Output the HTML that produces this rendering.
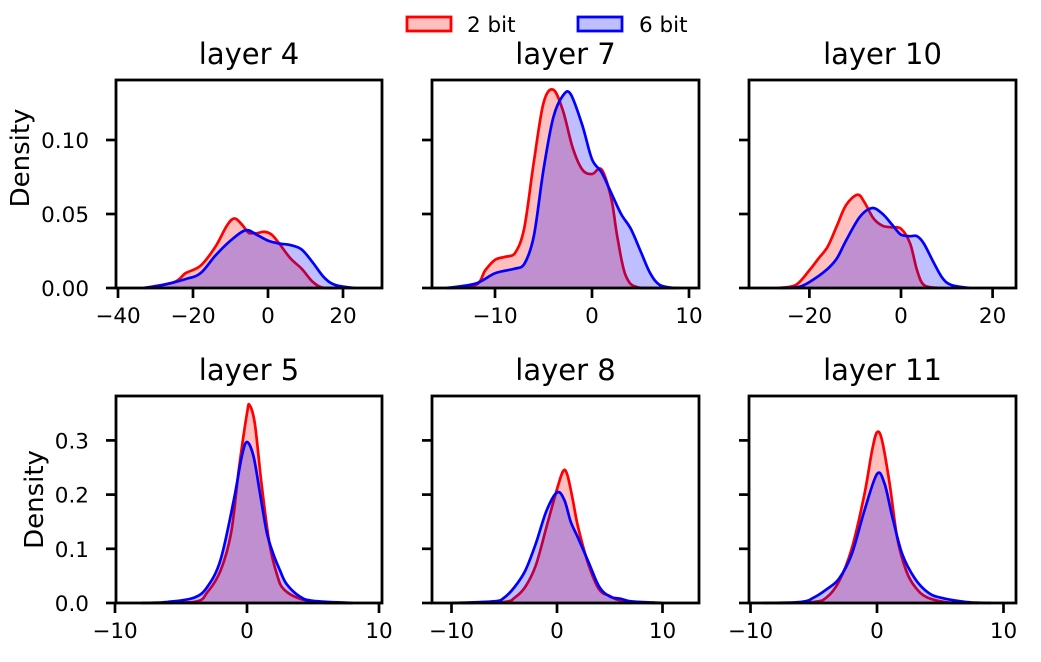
<!DOCTYPE html>
<html><head><meta charset="utf-8">
<style>
html,body{margin:0;padding:0;background:#fff;}
svg{display:block;}
text{font-family:"DejaVu Sans","Liberation Sans",sans-serif;fill:#000;}
</style></head>
<body>
<svg id="s" width="1041" height="662" viewBox="0 0 1041 662" xmlns="http://www.w3.org/2000/svg">
<rect x="407" y="17" width="44" height="14" fill="#ffbfbf" stroke="#ff0000" stroke-width="2.8"/>
<text x="467" y="32" font-size="21.5">2 bit</text>
<rect x="578" y="17" width="44" height="14" fill="#bfbfff" stroke="#0000ff" stroke-width="2.8"/>
<text x="639" y="32" font-size="21.5">6 bit</text>
<g id="g"></g>
</svg>
<script>
var NS="http://www.w3.org/2000/svg";
var g=document.getElementById("g");
function el(n,a,t){var e=document.createElementNS(NS,n);for(var k in a)e.setAttribute(k,a[k]);if(t!==undefined)e.textContent=t;g.appendChild(e);return e;}
var panels=[
 {L:116,R:382,T:80,B:288,x0:268,sx:3.75,sy:1480,title:"layer 4",ylab:true,
  xt:[[-40,"\u221240"],[-20,"\u221220"],[0,"0"],[20,"20"]],yt:[[0,"0.00"],[0.05,"0.05"],[0.10,"0.10"]],
  red:[[-33,0],[-25,0.004],[-22,0.01],[-18,0.015],[-14,0.028],[-11,0.042],[-9,0.047],[-7,0.043],[-5,0.037],[-3,0.037],[-1,0.038],[1,0.036],[3,0.03],[6,0.02],[9,0.013],[12,0.004],[15,0],[20,0]],
  blue:[[-33,0],[-28,0.002],[-22,0.006],[-18,0.01],[-14,0.022],[-10,0.032],[-6,0.039],[-3,0.036],[0,0.032],[3,0.03],[6,0.029],[9,0.026],[12,0.017],[15,0.007],[18,0.002],[23,0]]},
 {L:432,R:699,T:80,B:288,x0:592,sx:9.7,sy:1480,title:"layer 7",ylab:false,
  xt:[[-10,"\u221210"],[0,"0"],[10,"10"]],yt:[[0],[0.05],[0.10]],
  red:[[-15,0],[-12,0.002],[-11,0.012],[-10,0.019],[-9,0.021],[-8,0.023],[-7,0.04],[-6,0.085],[-5,0.125],[-4,0.134],[-3,0.12],[-2,0.095],[-1,0.08],[0,0.077],[1,0.08],[2,0.06],[2.6,0.035],[3.5,0.008],[5,0],[9,0]],
  blue:[[-15,0],[-12,0.003],[-10,0.01],[-8,0.013],[-7,0.016],[-6,0.035],[-5,0.08],[-4,0.115],[-3,0.13],[-2.2,0.131],[-1,0.11],[0,0.087],[1,0.078],[2,0.064],[3,0.05],[4,0.04],[5,0.025],[6,0.01],[7,0.002],[8.5,0]]},
 {L:749,R:1016,T:80,B:288,x0:901,sx:4.58,sy:1480,title:"layer 10",ylab:false,
  xt:[[-20,"\u221220"],[0,"0"],[20,"20"]],yt:[[0],[0.05],[0.10]],
  red:[[-27,0],[-23,0.002],[-20,0.012],[-18,0.02],[-16,0.028],[-14,0.042],[-12,0.056],[-9.5,0.063],[-8,0.058],[-6,0.047],[-4,0.042],[-2,0.041],[0,0.04],[2,0.03],[3.5,0.012],[5,0.002],[8,0]],
  blue:[[-26,0],[-22,0.001],[-19,0.006],[-16,0.013],[-14,0.02],[-12,0.032],[-9,0.048],[-6.3,0.054],[-4,0.05],[-2,0.043],[0,0.036],[2,0.035],[3.5,0.035],[5,0.03],[7,0.018],[9,0.007],[11,0.002],[15,0]]},
 {L:116,R:382,T:396,B:603,x0:247,sx:13.2,sy:542,title:"layer 5",ylab:true,
  xt:[[-10,"\u221210"],[0,"0"],[10,"10"]],yt:[[0,"0.0"],[0.1,"0.1"],[0.2,"0.2"],[0.3,"0.3"]],
  red:[[-8,0],[-4,0.002],[-3,0.02],[-2,0.06],[-1.2,0.13],[-0.6,0.25],[0,0.35],[0.2,0.365],[0.6,0.33],[1.1,0.22],[1.7,0.11],[2.3,0.05],[2.8,0.025],[4,0.008],[6,0],[8,0]],
  blue:[[-8,0],[-6,0.002],[-4,0.01],[-3,0.03],[-2,0.08],[-1,0.19],[-0.4,0.27],[0,0.297],[0.5,0.27],[1,0.2],[1.5,0.13],[2,0.09],[2.5,0.06],[3,0.035],[4,0.012],[5,0.004],[8,0]]},
 {L:432,R:699,T:396,B:603,x0:557,sx:10.55,sy:542,title:"layer 8",ylab:false,
  xt:[[-10,"\u221210"],[0,"0"],[10,"10"]],yt:[[0],[0.1],[0.2],[0.3]],
  red:[[-9,0],[-5,0.002],[-4,0.01],[-3,0.03],[-2,0.07],[-1,0.14],[0,0.21],[0.6,0.244],[1,0.235],[1.5,0.19],[2,0.14],[3,0.07],[4,0.025],[5,0.013],[6,0.005],[9,0],[10,0]],
  blue:[[-10,0],[-6,0.003],[-5,0.01],[-4,0.03],[-3,0.06],[-2,0.11],[-1,0.17],[0,0.204],[0.7,0.19],[1.3,0.15],[2,0.12],[3,0.075],[4,0.03],[5,0.012],[6,0.008],[7,0.003],[9,0.001],[10,0]]},
 {L:749,R:1016,T:396,B:603,x0:877,sx:12.65,sy:542,title:"layer 11",ylab:false,
  xt:[[-10,"\u221210"],[0,"0"],[10,"10"]],yt:[[0],[0.1],[0.2],[0.3]],
  red:[[-8,0],[-5,0.002],[-4,0.01],[-3,0.04],[-2,0.1],[-1,0.2],[-0.4,0.28],[0,0.315],[0.4,0.3],[1,0.22],[1.6,0.12],[2.3,0.06],[3,0.03],[4,0.01],[6,0],[8,0]],
  blue:[[-9,0],[-6,0.002],[-5,0.01],[-4,0.025],[-3,0.045],[-2,0.09],[-1,0.17],[0,0.238],[0.6,0.22],[1.2,0.16],[2,0.09],[3,0.045],[4,0.02],[5,0.01],[7,0.002],[9,0]]}
];
function smooth(pts){
 var d="M"+pts[0][0].toFixed(2)+","+pts[0][1].toFixed(2);
 for(var i=0;i<pts.length-1;i++){
  var p0=pts[i>0?i-1:i],p1=pts[i],p2=pts[i+1],p3=pts[i+2<pts.length?i+2:i+1];
  var c1x=p1[0]+(p2[0]-p0[0])/6,c1y=p1[1]+(p2[1]-p0[1])/6;
  var c2x=p2[0]-(p3[0]-p1[0])/6,c2y=p2[1]-(p3[1]-p1[1])/6;
  c1y=Math.min(c1y,Math.max(p1[1],p2[1]));c2y=Math.min(c2y,Math.max(p1[1],p2[1]));
  d+="C"+c1x.toFixed(2)+","+c1y.toFixed(2)+" "+c2x.toFixed(2)+","+c2y.toFixed(2)+" "+p2[0].toFixed(2)+","+p2[1].toFixed(2);
 }
 return d;
}
panels.forEach(function(p){
 function X(v){return p.x0+v*p.sx;}
 function Y(v){return p.B-v*p.sy;}
 function curve(data,col){
  var pts=data.map(function(a){return [X(a[0]),Y(a[1])];});
  var d=smooth(pts);
  var last=pts[pts.length-1],first=pts[0];
  el("path",{d:d+"L"+last[0]+","+p.B+"L"+first[0]+","+p.B+"Z",fill:col,"fill-opacity":"0.25",stroke:"none"});
  el("path",{d:d,fill:"none",stroke:col,"stroke-width":"2.7","stroke-linejoin":"round"});
 }
 curve(p.red,"#ff0000");
 curve(p.blue,"#0000ff");
 el("rect",{x:p.L,y:p.T,width:p.R-p.L,height:p.B-p.T,fill:"none",stroke:"#000","stroke-width":"2.8"});
 p.xt.forEach(function(t){
  var x=X(t[0]);
  el("line",{x1:x,y1:p.B,x2:x,y2:p.B+10,stroke:"#000","stroke-width":"2.7"});
  el("text",{x:x,y:p.B+35,"font-size":"21.5","text-anchor":"middle"},t[1]);
 });
 p.yt.forEach(function(t){
  var y=Y(t[0]);
  el("line",{x1:p.L,y1:y,x2:p.L-10,y2:y,stroke:"#000","stroke-width":"2.7"});
  if(t[1]) el("text",{x:p.L-27,y:y+8,"font-size":"21.5","text-anchor":"end"},t[1]);
 });
 el("text",{x:(p.L+p.R)/2,y:p.T-16,"font-size":"29","text-anchor":"middle"},p.title);
 if(p.ylab){
  var cy=(p.T+p.B)/2+ (p.T>300?0:-26);
  var cx=p.T>300?43:29;
  el("text",{x:cx,y:cy,"font-size":"26","text-anchor":"middle",transform:"rotate(-90 "+cx+" "+cy+")"},"Density");
 }
});
</script>
</body></html>
